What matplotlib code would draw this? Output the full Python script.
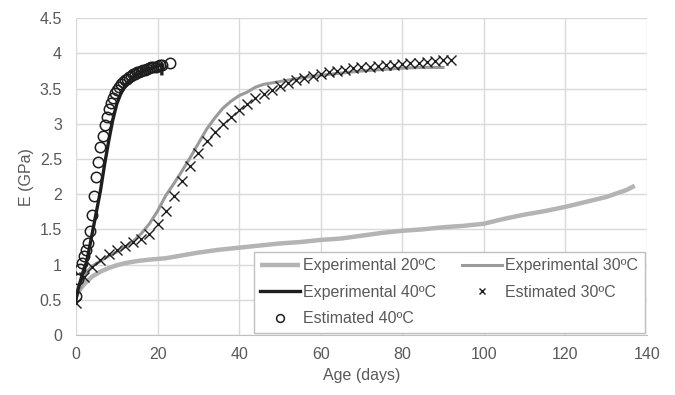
import matplotlib
matplotlib.use("Agg")
import matplotlib.pyplot as plt
from matplotlib.ticker import FuncFormatter

plt.rcParams['font.family'] = ['Liberation Sans', 'DejaVu Sans']

# Experimental 20ºC
t20 = [0, 1, 2, 3, 4, 6, 8, 10, 12, 15, 18, 20, 22, 25, 28, 30, 35, 40, 45, 50,
       55, 60, 65, 70, 75, 80, 85, 90, 95, 100, 105, 110, 115, 120, 125, 130, 135, 137]
e20 = [0.55, 0.65, 0.72, 0.78, 0.83, 0.90, 0.95, 0.99, 1.02, 1.05, 1.07, 1.08, 1.09,
       1.12, 1.15, 1.17, 1.21, 1.24, 1.27, 1.30, 1.32, 1.35, 1.37, 1.41, 1.45, 1.48,
       1.50, 1.53, 1.55, 1.58, 1.65, 1.71, 1.76, 1.82, 1.89, 1.96, 2.06, 2.12]

# Experimental 30ºC
t30 = [0, 1, 2, 3, 4, 6, 8, 10, 12, 14, 16, 18, 20, 22, 24, 26, 28, 30, 32, 34,
       36, 38, 40, 42, 44, 46, 48, 50, 55, 60, 65, 70, 75, 80, 85, 90]
e30 = [0.55, 0.66, 0.82, 0.92, 0.98, 1.05, 1.12, 1.18, 1.25, 1.33, 1.44, 1.58, 1.76,
       1.98, 2.15, 2.33, 2.52, 2.72, 2.92, 3.08, 3.22, 3.32, 3.40, 3.45, 3.52, 3.56,
       3.58, 3.60, 3.65, 3.69, 3.72, 3.75, 3.77, 3.79, 3.80, 3.80]

# Experimental 40ºC
t40 = [0, 0.5, 1, 1.5, 2, 2.5, 3, 3.5, 4, 5, 6, 7, 8, 9, 10, 11, 12, 13, 14, 15,
       16, 17, 18, 19, 20, 21, 21.05]
e40 = [0.50, 0.65, 0.75, 0.85, 0.95, 1.02, 1.15, 1.30, 1.45, 1.75, 2.05, 2.42, 2.75,
       3.05, 3.28, 3.43, 3.54, 3.61, 3.66, 3.70, 3.73, 3.76, 3.78, 3.80, 3.82, 3.84, 3.71]

# Estimated 30ºC
ts30 = [0, 2, 4, 6, 8, 10, 12, 14, 16, 18, 20, 22, 24, 26, 28, 30, 32, 34, 36, 38,
        40, 42, 44, 46, 48, 50, 52, 54, 56, 58, 60, 62, 64, 66, 68, 70, 72, 74, 76,
        78, 80, 82, 84, 86, 88, 90, 92]
es30 = [0.45, 0.83, 0.97, 1.06, 1.15, 1.21, 1.27, 1.32, 1.36, 1.43, 1.57, 1.76, 1.98,
        2.18, 2.40, 2.58, 2.75, 2.88, 3.00, 3.10, 3.19, 3.28, 3.36, 3.42, 3.48, 3.53,
        3.58, 3.62, 3.65, 3.68, 3.71, 3.73, 3.75, 3.77, 3.79, 3.80, 3.81, 3.82, 3.83,
        3.84, 3.85, 3.86, 3.87, 3.88, 3.89, 3.90, 3.91]

# Estimated 40ºC
ts40 = [0, 0.5, 1, 1.5, 2, 2.5, 3, 3.5, 4, 4.5, 5, 5.5, 6, 6.5, 7, 7.5, 8, 8.5, 9,
        9.5, 10, 10.5, 11, 11.5, 12, 12.5, 13, 13.5, 14, 14.5, 15, 15.5, 16, 16.5,
        17, 17.5, 18, 18.5, 19, 19.5, 20, 20.5, 21, 23]
es40 = [0.55, 0.79, 0.93, 1.02, 1.12, 1.21, 1.31, 1.48, 1.71, 1.98, 2.24, 2.45, 2.67,
        2.83, 2.98, 3.10, 3.21, 3.30, 3.37, 3.43, 3.48, 3.52, 3.56, 3.59, 3.62, 3.64,
        3.66, 3.68, 3.70, 3.71, 3.73, 3.74, 3.75, 3.76, 3.77, 3.78, 3.79, 3.80, 3.81,
        3.81, 3.82, 3.83, 3.83, 3.86]

text_color = '#595959'
grid_color = '#d9d9d9'
fs = 11.5

fig = plt.figure(figsize=(6.75, 3.95), dpi=100)
ax = fig.add_axes([0.1126, 0.152, 0.8459, 0.802])

l20, = ax.plot(t20, e20, color='#b4b4b4', lw=3.2, solid_capstyle='butt',
               label='Experimental 20ºC')
l30, = ax.plot(t30, e30, color='#9a9a9a', lw=2.2, label='Experimental 30ºC')
l40, = ax.plot(t40, e40, color='#1e1e1e', lw=2.4, label='Experimental 40ºC')
m30, = ax.plot(ts30, es30, ls='none', marker='x', ms=6.5, mew=1.0,
               color='#1e1e1e', label='Estimated 30ºC')
m40, = ax.plot(ts40, es40, ls='none', marker='o', ms=7.5, mew=1.1,
               mfc='none', mec='#1e1e1e', label='Estimated 40ºC')

ax.set_xlim(0, 140)
ax.set_ylim(0, 4.5)
ax.set_xticks(range(0, 141, 20))
ax.set_yticks([i * 0.5 for i in range(10)])
ax.yaxis.set_major_formatter(FuncFormatter(lambda v, p: f'{v:g}'))

ax.grid(True, color=grid_color, lw=1.0)
ax.set_axisbelow(True)
for side in ['top', 'right', 'left']:
    ax.spines[side].set_visible(False)
ax.spines['bottom'].set_color('#bfbfbf')
ax.tick_params(length=0, labelsize=fs, labelcolor=text_color)
ax.tick_params(axis='x', pad=9)
ax.tick_params(axis='y', pad=10)

ax.set_xlabel('Age (days)', fontsize=fs, color=text_color, labelpad=4)
ax.set_ylabel('E (GPa)', fontsize=fs, color=text_color, labelpad=4)

leg = ax.legend(handles=[l20, l40, m40, l30, m30], ncol=2, loc='lower right',
                fontsize=fs, frameon=True, fancybox=False, borderaxespad=0.15,
                handlelength=2.5, handletextpad=0.2, columnspacing=1.6,
                labelspacing=0.72, borderpad=0.4, markerscale=0.75)
leg.get_frame().set_edgecolor('#bfbfbf')
leg.get_frame().set_linewidth(1.0)
leg.get_frame().set_alpha(1.0)
for txt in leg.get_texts():
    txt.set_color(text_color)

fig.savefig('out.png', dpi=100)
